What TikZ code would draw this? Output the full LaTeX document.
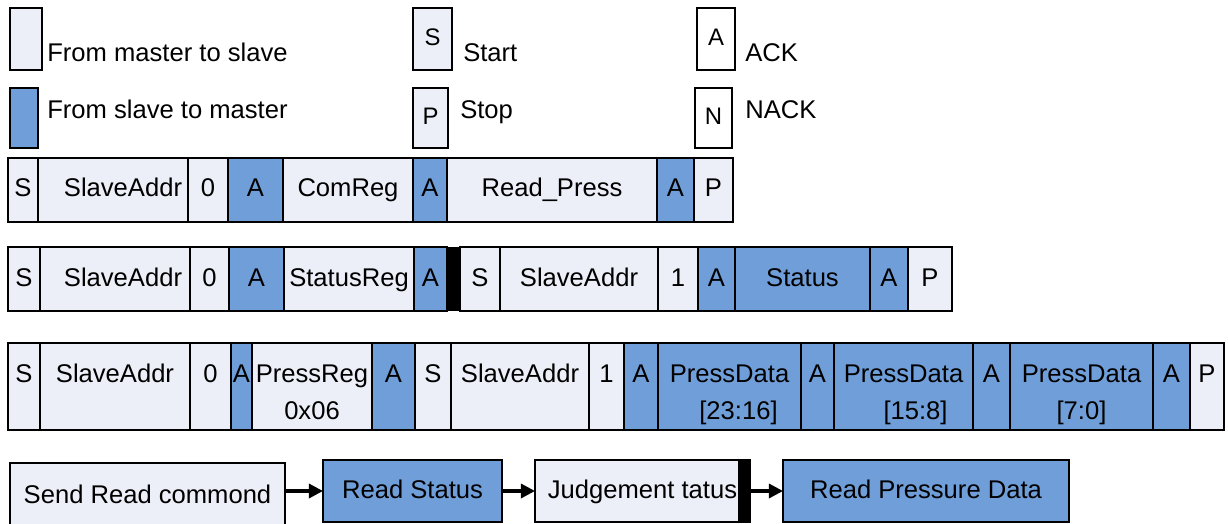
\documentclass[tikz,border=0pt]{standalone}
\usepackage{fontspec}
\setmainfont{Liberation Sans}
\usetikzlibrary{arrows.meta, positioning}
\definecolor{lite}{RGB}{236,239,247}
\definecolor{blu}{RGB}{111,158,217}
\newcommand{\cellfont}{\fontsize{18.2}{21}\selectfont}
\newcommand{\tagfont}{\fontsize{17}{20}\selectfont}

\begin{document}
\begin{tikzpicture}[
    x=0.025cm, y=-0.025cm,
    wd/.style={minimum width=#1*0.025cm},
    ht/.style={minimum height=#1*0.025cm},
    cell/.style={rectangle, draw=black, line width=2pt, fill=lite, inner sep=0pt, outer sep=0pt, text height=0.45cm, text depth=0.1cm, font=\cellfont},
    slave/.style={cell, fill=blu},
    tall/.style={ht=87, text height=0.3cm, text depth=0.525cm},
    legbox/.style={cell, anchor=north west, font=\tagfont},
    sub/.style={inner sep=0pt, anchor=base, font=\cellfont},
    bar/.style={rectangle, fill=black, inner sep=0pt, outer sep=0pt},
    legtxt/.style={anchor=west, inner sep=0pt, font=\cellfont, text height=0.45cm, text depth=0.1cm},
    arrow/.style={-{Triangle[length=10pt, width=10pt]}, line width=2.2pt},
    node distance=0pt
]
\useasboundingbox (0,0) rectangle (1228,524);

% Legend
\node[legbox, wd=32, ht=62] (lgm) at (10,8) {};
\node[legbox, fill=blu, wd=28, ht=60] (lgs) at (10,88) {};
\node[legbox, wd=39, ht=62] (lgstart) at (413,8) {S};
\node[legbox, wd=35, ht=60] (lgstop) at (413,88) {P};
\node[legbox, fill=white, wd=38, ht=62] (lgack) at (697,8) {A};
\node[legbox, fill=white, wd=37, ht=60] (lgnack) at (695,88) {N};
\node[legtxt] (lgmtxt) at (47,55) {From master to slave};
\node[legtxt] (lgstxt) at (47,112) {From slave to master};
\node[legtxt] (lgstarttxt) at (463,55) {Start};
\node[legtxt] (lgstoptxt) at (460,112) {Stop};
\node[legtxt] (lgacktxt) at (745,55) {ACK};
\node[legtxt] (lgnacktxt) at (745,112) {NACK};

% Frame 1 - send read command
\node[cell, ht=64, wd=30, anchor=north west] (r1s) at (8,158) {S};
\node[cell, ht=64, wd=150, right=of r1s] (r1addr) {\hspace{0.5cm}SlaveAddr};
\node[cell, ht=64, wd=40, right=of r1addr] (r1rw) {0};
\node[slave, ht=64, wd=55, right=of r1rw] (r1a1) {A};
\node[cell, ht=64, wd=130, right=of r1a1] (r1reg) {ComReg};
\node[slave, ht=64, wd=34, right=of r1reg] (r1a2) {A};
\node[cell, ht=64, wd=210, right=of r1a2] (r1cmd) {Read\_Press};
\node[slave, ht=64, wd=37, right=of r1cmd] (r1a3) {A};
\node[cell, ht=64, wd=39, right=of r1a3] (r1p) {P};

% Frame 2 - read status
\node[cell, ht=64, wd=32, anchor=north west] (r2s) at (8,247) {S};
\node[cell, ht=64, wd=150, right=of r2s] (r2addr) {\hspace{0.4cm}SlaveAddr};
\node[cell, ht=64, wd=39, right=of r2addr] (r2rw) {0};
\node[slave, ht=64, wd=55, right=of r2rw] (r2a1) {A};
\node[cell, ht=64, wd=130, right=of r2a1] (r2reg) {StatusReg};
\node[slave, ht=64, wd=33, right=of r2reg] (r2a2) {A};
\node[bar, ht=64, wd=13, right=of r2a2] (r2bar) {};
\node[cell, ht=64, wd=40, right=of r2bar] (r2s2) {S};
\node[cell, ht=64, wd=158, right=of r2s2] (r2addr2) {SlaveAddr};
\node[cell, ht=64, wd=40, right=of r2addr2] (r2rw2) {1};
\node[slave, ht=64, wd=37, right=of r2rw2] (r2a3) {A};
\node[slave, ht=64, wd=135, right=of r2a3] (r2stat) {Status};
\node[slave, ht=64, wd=38, right=of r2stat] (r2a4) {A};
\node[cell, ht=64, wd=44, right=of r2a4] (r2p) {P};

% Frame 3 - read pressure data
\node[cell, tall, wd=32, anchor=north west] (r3s) at (8,343) {S};
\node[cell, tall, wd=150, right=of r3s] (r3addr) {SlaveAddr};
\node[cell, tall, wd=41, right=of r3addr] (r3rw) {0};
\node[slave, tall, wd=21, right=of r3rw] (r3a1) {A};
\node[cell, tall, wd=120, right=of r3a1] (r3reg) {PressReg};
\node[slave, tall, wd=43, right=of r3reg] (r3a2) {A};
\node[cell, tall, wd=36, right=of r3a2] (r3s2) {S};
\node[cell, tall, wd=138, right=of r3s2] (r3addr2) {SlaveAddr};
\node[cell, tall, wd=35, right=of r3addr2] (r3rw2) {1};
\node[slave, tall, wd=34, right=of r3rw2] (r3a3) {A};
\node[slave, tall, wd=143, right=of r3a3] (r3d1) {PressData};
\node[slave, tall, wd=33, right=of r3d1] (r3a4) {A};
\node[slave, tall, wd=139, right=of r3a4] (r3d2) {PressData};
\node[slave, tall, wd=37, right=of r3d2] (r3a5) {A};
\node[slave, tall, wd=143, right=of r3a5] (r3d3) {PressData};
\node[slave, tall, wd=37, right=of r3d3] (r3a6) {A};
\node[cell, tall, wd=34, right=of r3a6] (r3p) {P};
\node[sub] (r3regv) at ([yshift=0.275cm]r3reg.south) {0x06};
\node[sub] (r3d1v) at ([xshift=0.225cm, yshift=0.275cm]r3d1.south) {[23:16]};
\node[sub] (r3d2v) at ([xshift=0.3cm, yshift=0.275cm]r3d2.south) {[15:8]};
\node[sub] (r3d3v) at ([yshift=0.275cm]r3d3.south) {[7:0]};

% Flow
\node[cell, ht=67, wd=275, anchor=north west] (send) at (10,463) {Send Read commond};
\node[slave, ht=62, wd=179, anchor=north west] (readst) at (323,460) {Read Status};
\node[cell, ht=62, wd=215, anchor=north west] (judge) at (535,460) {Judgement tatus};
\node[bar, ht=62, wd=12, anchor=north east] (judgebar) at (judge.north east) {};
\node[slave, ht=62, wd=286, anchor=north west] (readpd) at (783,460) {Read Pressure Data};

\draw[arrow] (send.east |- readst.west) -- (readst.west);
\draw[arrow] (readst) -- (judge);
\draw[arrow] (judge) -- (readpd);

\end{tikzpicture}
\end{document}
